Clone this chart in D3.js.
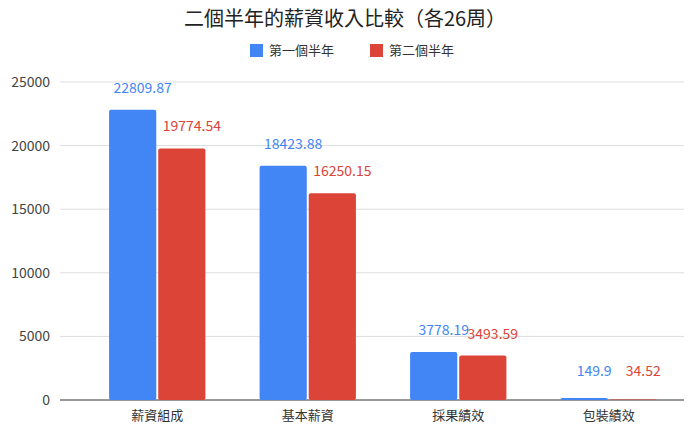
<!DOCTYPE html>
<html><head><meta charset="utf-8">
<script src="https://cdn.jsdelivr.net/npm/d3@7"></script>
<style>body{margin:0;background:#fff;font-family:"Noto Sans CJK TC","Roboto",sans-serif}</style>
</head><body><svg id="c" width="689" height="432"></svg>
<script>
const categories=["薪資組成","基本薪資","採果績效","包裝績效"];
const series=["第一個半年","第二個半年"];
const first=[22809.87,18423.88,3778.19,149.9];
const second=[19774.54,16250.15,3493.59,34.52];
const ticks=[0,5000,10000,15000,20000,25000];
const colors=["#4285f4","#db4437"];
const svg=d3.select("#c");
const x=d3.scaleBand().domain(categories).range([82,684]).paddingInner(0.36).paddingOuter(0.18);
const y=d3.scaleLinear().domain([0,25000]).range([400,82]);
const xs=d3.scaleBand().domain([0,1]).range([0,x.bandwidth()]).paddingInner(0.04);
svg.append("text").attr("x",345).attr("y",26).attr("text-anchor","middle").attr("font-size",20).attr("fill","#222").text("二個半年的薪資收入比較（各26周）");
ticks.forEach(t=>{
 svg.append("line").attr("x1",60).attr("x2",684).attr("y1",y(t)).attr("y2",y(t)).attr("stroke",t===0?"#333":"#ddd").attr("stroke-width",1);
 svg.append("text").attr("x",50).attr("y",y(t)+5).attr("text-anchor","end").attr("font-size",14).attr("fill","#444").text(t);
});
categories.forEach((c,i)=>{
 svg.append("text").attr("x",x(c)+x.bandwidth()/2).attr("y",420).attr("text-anchor","middle").attr("font-size",13).attr("fill","#333").text(c);
});
[first,second].forEach((arr,s)=>{
 arr.forEach((v,i)=>{
  const bx=x(categories[i])+xs(s);
  svg.append("rect").attr("x",bx).attr("y",y(v)).attr("width",xs.bandwidth()).attr("height",400-y(v)).attr("fill",colors[s]).attr("rx",2);
  svg.append("text").attr("x",bx+xs.bandwidth()/2+10).attr("y",Math.min(y(v),393)-17).attr("text-anchor","middle").attr("font-size",14).attr("fill",colors[s]).text(v);
 });
});
const lg=[[250,"第一個半年"],[370,"第二個半年"]];
lg.forEach((l,i)=>{
 svg.append("rect").attr("x",l[0]).attr("y",44).attr("width",13).attr("height",13).attr("fill",colors[i]);
 svg.append("text").attr("x",l[0]+19).attr("y",55).attr("font-size",13).attr("fill","#333").text(l[1]);
});
</script></body></html>
